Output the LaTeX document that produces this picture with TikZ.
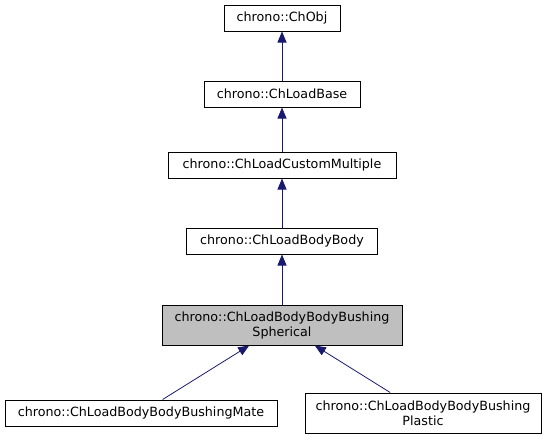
\documentclass[tikz,border=0pt]{standalone}
\usepackage{fontspec}
\setmainfont{DejaVu Sans}
\usetikzlibrary{arrows.meta}
\usetikzlibrary{positioning}

\definecolor{edgeblue}{HTML}{191970}
\definecolor{hilite}{HTML}{BFBFBF}

\tikzset{classbox/.style={draw=black, line width=1pt, fill=white, inner sep=0pt, align=center, font=\fontsize{12.7}{15}\selectfont}}

\begin{document}
\begin{tikzpicture}[x=1pt,y=-1pt]

            %\draw [help lines] (0,0) grid (549,440);
            \useasboundingbox (0,0) rectangle (549,440);

            \path   (282,18) node (chobj) [classbox,minimum width=116,minimum height=26] {chrono::ChObj}
                    (282,94) node (loadbase) [classbox,minimum width=156,minimum height=26] {chrono::ChLoadBase}
                    (282,165) node (custom) [classbox,minimum width=228,minimum height=26] {chrono::ChLoadCustomMultiple}
                    (282,241) node (bodybody) [classbox,minimum width=191,minimum height=26] {chrono::ChLoadBodyBody}
                    (282,325) node (spherical) [classbox,fill=hilite,minimum width=240,minimum height=40] {chrono::ChLoadBodyBodyBushing\\Spherical}
                    (141,413) node (mate) [classbox,minimum width=272,minimum height=26] {chrono::ChLoadBodyBodyBushingMate}
                    (423,413) node (plastic) [classbox,minimum width=236,minimum height=40] {chrono::ChLoadBodyBodyBushing\\Plastic};

            \draw[line width=0.8pt,arrows = -{Triangle[length=11pt,width=9pt,fill = edgeblue]},edgeblue] (loadbase) -- (chobj);
            \draw[line width=0.8pt,arrows = -{Triangle[length=11pt,width=9pt,fill = edgeblue]},edgeblue] (custom) -- (loadbase);
            \draw[line width=0.8pt,arrows = -{Triangle[length=11pt,width=9pt,fill = edgeblue]},edgeblue] (bodybody) -- (custom);
            \draw[line width=0.8pt,arrows = -{Triangle[length=11pt,width=9pt,fill = edgeblue]},edgeblue] (spherical) -- (bodybody);
            \draw[line width=0.8pt,arrows = -{Triangle[length=11pt,width=9pt,fill = edgeblue]},edgeblue] (mate) -- (spherical);
            \draw[line width=0.8pt,arrows = -{Triangle[length=11pt,width=9pt,fill = edgeblue]},edgeblue] (plastic) -- (spherical);

\end{tikzpicture}
\end{document}
